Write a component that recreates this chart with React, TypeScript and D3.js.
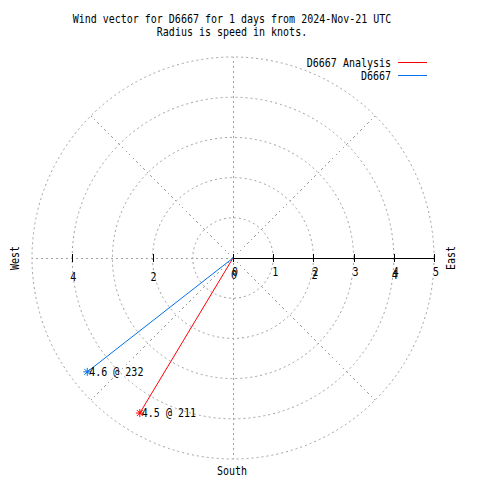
import React from "react";
import * as d3 from "d3";

const titleLines = ["Wind vector for D6667 for 1 days from 2024-Nov-21 UTC", "Radius is speed in knots."];
const seriesNames = ["D6667 Analysis", "D6667"];
const seriesColors = ["#ff0000", "#0070f0"];
const speeds = [4.5, 4.6];
const directions = [211, 232];
const ringValues = [1, 2, 3, 4, 5];
const eastTicks = [0, 1, 2, 3, 4, 5];
const eastTicks2 = [0, 2, 4];
const westTicks = [2, 4];
const spokeAngles = [0, 45, 90, 135, 180, 225, 270, 315];

const W = 480, H = 480;
const cx = 233, cy = 258;
const FONT = "'DejaVu Sans Mono', 'Liberation Mono', monospace";

function T({ x, y, anchor = "start", rot = 0, children }: { x: number; y: number; anchor?: string; rot?: number; children: React.ReactNode }) {
  const tr = rot ? `translate(${x},${y}) rotate(${rot}) scale(1,1.2)` : `translate(${x},${y}) scale(1,1.2)`;
  return (
    <text transform={tr} textAnchor={anchor as any}>
      {children}
    </text>
  );
}

export default function App() {
  const r = d3.scaleLinear().domain([0, 5]).range([0, 201]);
  const pt = (speed: number, dir: number): [number, number] => {
    const a = (dir * Math.PI) / 180;
    return [cx + r(speed) * Math.sin(a), cy - r(speed) * Math.cos(a)];
  };
  const grid = "#a0a0a0";
  const dash = "2,3";
  const star = (x: number, y: number, c: string) => {
    const s = 4;
    return (
      <g stroke={c} strokeWidth={1}>
        <line x1={x - s} y1={y} x2={x + s} y2={y} />
        <line x1={x} y1={y - s} x2={x} y2={y + s} />
        <line x1={x - 3} y1={y - 3} x2={x + 3} y2={y + 3} />
        <line x1={x - 3} y1={y + 3} x2={x + 3} y2={y - 3} />
      </g>
    );
  };
  return (
    <div style={{ position: "fixed", left: 0, top: 0 }}>
      <svg width={W} height={H} style={{ display: "block", background: "#fff" }} fontFamily={FONT} fontSize={10}>
        <rect width={W} height={H} fill="#fff" />
        {ringValues.map((v) => (
          <circle key={v} cx={cx} cy={cy} r={r(v)} fill="none" stroke={grid} strokeDasharray={dash} />
        ))}
        {spokeAngles.map((a) => {
          const [x, y] = pt(5, a);
          return <line key={a} x1={cx} y1={cy} x2={x} y2={y} stroke={grid} strokeDasharray={dash} shapeRendering="crispEdges" />;
        })}
        <line x1={cx} y1={cy + 0.5} x2={cx + r(5)} y2={cy + 0.5} stroke="#000" shapeRendering="crispEdges" />
        {eastTicks.map((t) => (
          <g key={"e" + t}>
            <line x1={Math.round(cx + r(t)) + 0.5} y1={cy - 4} x2={Math.round(cx + r(t)) + 0.5} y2={cy + 4} stroke="#000" />
            <T x={cx + r(t) + 2} y={cy + 18} anchor="middle">{t}</T>
          </g>
        ))}
        {eastTicks2.map((t) => (
          <T key={"e2" + t} x={cx + r(t) + 1} y={cy + 21} anchor="middle">{t}</T>
        ))}
        {westTicks.map((t) => (
          <g key={"w" + t}>
            <line x1={Math.round(cx - r(t)) + 0.5} y1={cy - 4} x2={Math.round(cx - r(t)) + 0.5} y2={cy + 4} stroke="#000" />
            <T x={cx - r(t) + 1} y={cy + 23} anchor="middle">{t}</T>
          </g>
        ))}
        {speeds.map((s, i) => {
          const [x, y] = pt(s, directions[i]);
          return (
            <g key={i}>
              <line x1={cx} y1={cy} x2={x} y2={y} stroke={seriesColors[i]} />
              {star(x, y, seriesColors[i])}
              <T x={x + 2} y={y + 4}>{`${s} @ ${directions[i]}`}</T>
            </g>
          );
        })}
        <T x={232} y={475} anchor="middle">South</T>
        <T x={19} y={cy} anchor="middle" rot={-90}>West</T>
        <T x={455} y={cy} anchor="middle" rot={-90}>East</T>
        {titleLines.map((t, i) => (
          <T key={i} x={232} y={23 + i * 13} anchor="middle">{t}</T>
        ))}
        {seriesNames.map((n, i) => (
          <g key={n}>
            <T x={391} y={67 + i * 13} anchor="end">{n}</T>
            <line x1={398} y1={62.5 + i * 13} x2={427} y2={62.5 + i * 13} stroke={seriesColors[i]} shapeRendering="crispEdges" />
          </g>
        ))}
      </svg>
    </div>
  );
}
